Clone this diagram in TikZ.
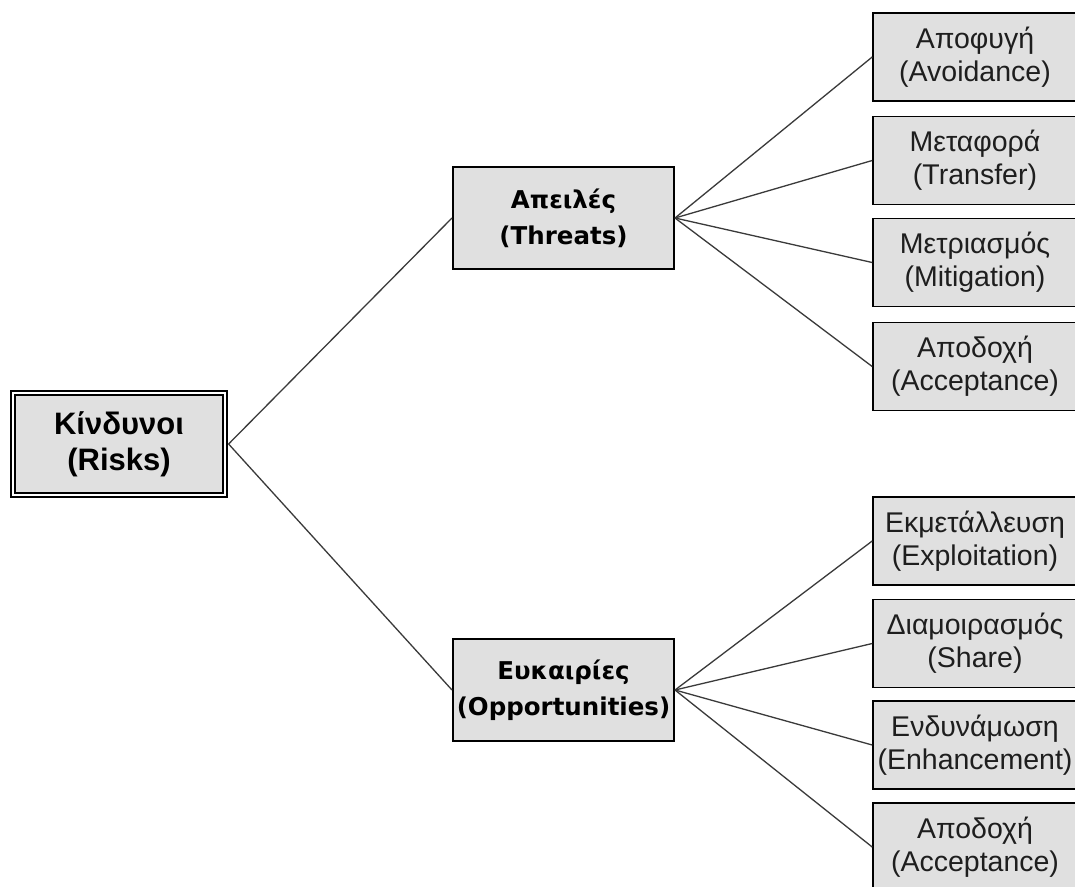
\documentclass[tikz,border=0pt]{standalone}
\usepackage{fontspec}
\setmainfont{Liberation Sans}
\newfontfamily\midfont{DejaVu Sans}
\definecolor{boxgray}{HTML}{E0E0E0}
\definecolor{linkgray}{HTML}{3A3A3A}
\definecolor{txtgray}{HTML}{1E1E1E}
\begin{document}
\begin{tikzpicture}[x=1pt,y=-1pt,
  leaf/.style={draw=black, line width=1.6pt, fill=boxgray, minimum width=204pt, minimum height=88pt,
    inner sep=0pt, align=center, text=txtgray, font=\fontsize{28.5}{33}\selectfont},
  midbox/.style={draw=black, line width=2pt, fill=boxgray, minimum width=221pt, minimum height=102pt,
    inner sep=0pt, align=center, text=black, font=\midfont\bfseries\fontsize{24.5}{36}\selectfont},
  rootbox/.style={draw=black, line width=1.6pt, double=white, double distance=2.5pt, fill=boxgray,
    minimum width=212pt, minimum height=102pt, inner sep=0pt, align=center, text=black,
    font=\bfseries\fontsize{31}{36}\selectfont},
  link/.style={draw=linkgray, line width=1.3pt}]
\clip (0,0) rectangle (1075,886);
\fill[white] (0,0) rectangle (1075,886);

\node[rootbox] (risks) at (119,444) {Κίνδυνοι\\(Risks)};
\node[midbox] (threats) at (563.5,218) {Απειλές\\(Threats)};
\node[midbox] (opps) at (563.5,690) {Ευκαιρίες\\(Opportunities)};

\node[leaf] (t1) at (975,57) {Αποφυγή\\(Avoidance)};
\node[leaf] (t2) at (975,160.5) {Μεταφορά\\(Transfer)};
\node[leaf] (t3) at (975,262.5) {Μετριασμός\\(Mitigation)};
\node[leaf] (t4) at (975,366.5) {Αποδοχή\\(Acceptance)};

\node[leaf] (o1) at (975,541) {Εκμετάλλευση\\(Exploitation)};
\node[leaf] (o2) at (975,643.5) {Διαμοιρασμός\\(Share)};
\node[leaf] (o3) at (975,745) {Ενδυνάμωση\\(Enhancement)};
\node[leaf] (o4) at (975,847) {Αποδοχή\\(Acceptance)};

\coordinate (rootout) at ([xshift=2.8pt]risks.east);
\draw[link] (rootout) -- (threats.west);
\draw[link] (rootout) -- (opps.west);
\foreach \n in {t1,t2,t3,t4} \draw[link] (threats.east) -- (\n.west);
\foreach \n in {o1,o2,o3,o4} \draw[link] (opps.east) -- (\n.west);
\end{tikzpicture}
\end{document}
